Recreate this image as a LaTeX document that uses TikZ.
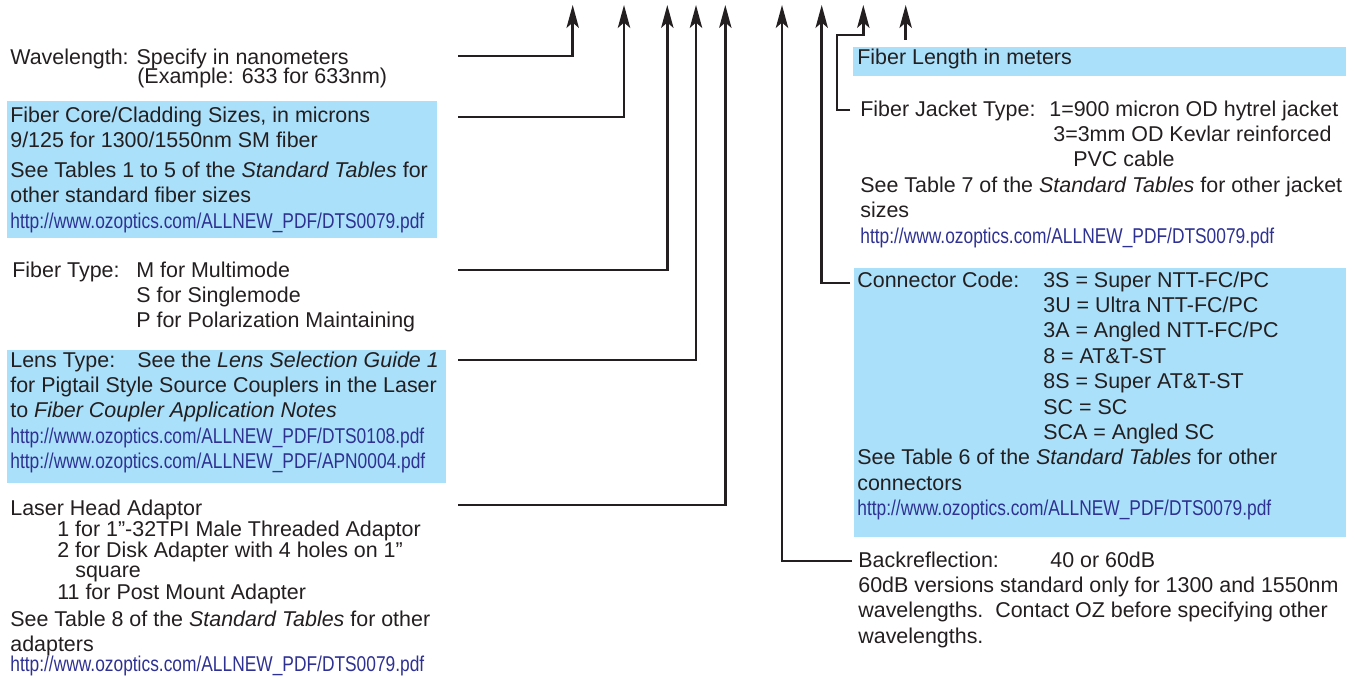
\documentclass[tikz,border=0pt]{standalone}
\usepackage{fontspec}
\setmainfont{Liberation Sans}
\newfontfamily\urlfont[FakeStretch=0.81]{Liberation Sans}
\usetikzlibrary{arrows.meta}

\definecolor{ozblue}{RGB}{171,224,250}
\definecolor{oztext}{RGB}{35,31,32}
\definecolor{ozlink}{RGB}{46,49,146}
\newlength{\pxl}\setlength{\pxl}{0.02cm}
\newcommand{\lnk}[1]{{\urlfont\color{ozlink}#1}}
\newcommand{\ozurl}[1]{\lnk{http://www.ozoptics.com/ALLNEW\_PDF/#1.pdf}}

\tikzset{
  txt/.style={anchor=base west, inner sep=0pt, text=oztext,
    font=\fontsize{12.2}{14.46}\selectfont},
  arr/.style={draw=oztext, line width=1.4pt,
    -{Stealth[length=13pt, width=7pt, inset=3pt]}},
  bluebox/.style={fill=ozblue}
}

\begin{document}
\begin{tikzpicture}[x=0.02cm, y=-0.02cm]
  \useasboundingbox (0,0) rectangle (1355,679);
  % shaded boxes
  \fill[bluebox] (7,101) rectangle (437,238);
  \fill[bluebox] (7,350) rectangle (446,483);
  \fill[bluebox] (853,47) rectangle (1346,76);
  \fill[bluebox] (854,268) rectangle (1346,537);

  % arrow tips along the top
  \coordinate (t1) at (572.7,5);
  \coordinate (t2) at (624,5);
  \coordinate (t3) at (667.3,5);
  \coordinate (t4) at (696,5);
  \coordinate (t5) at (725.3,5);
  \coordinate (t6) at (782,5);
  \coordinate (t7) at (821.7,5);
  \coordinate (t8) at (863.3,5);
  \coordinate (t9) at (905.7,5);

  % left column
  \node[txt] (wl) at (10,65) {\begin{tabular}[t]{@{}l@{}}
    Wavelength: Specify in nanometers\\[-6.5\pxl]
    \hspace*{127\pxl}(Example: 633 for 633nm)\end{tabular}};
  \node[txt] (core) at (10,122) {\begin{tabular}[t]{@{}l@{}}
    Fiber Core/Cladding Sizes, in microns\\
    9/125 for 1300/1550nm SM fiber\\[4.5\pxl]
    See Tables 1 to 5 of the \textit{Standard Tables} for\\
    other standard fiber sizes\\
    \ozurl{DTS0079}\end{tabular}};
  \node[txt] (ftype) at (12,277) {\begin{tabular}[t]{@{}l@{}}
    \makebox[124\pxl][l]{Fiber Type:}M for Multimode\\
    \hspace*{124\pxl}S for Singlemode\\
    \hspace*{124\pxl}P for Polarization Maintaining\end{tabular}};
  \node[txt] (lens) at (10,367) {\begin{tabular}[t]{@{}l@{}}
    \makebox[127\pxl][l]{Lens Type:}See the \textit{Lens Selection Guide 1}\\
    for Pigtail Style Source Couplers in the Laser\\
    to \textit{Fiber Coupler Application Notes}\\
    \ozurl{DTS0108}\\
    \ozurl{APN0004}\end{tabular}};
  \node[txt] (laser) at (10,515) {\begin{tabular}[t]{@{}l@{}}
    Laser Head Adaptor\\[-3.5\pxl]
    \hspace*{47\pxl}1 for 1”-32TPI Male Threaded Adaptor\\[-4.5\pxl]
    \hspace*{47\pxl}2 for Disk Adapter with 4 holes on 1”\\[-5.5\pxl]
    \hspace*{65\pxl}square\\[-3.5\pxl]
    \hspace*{47\pxl}11 for Post Mount Adapter\\[1.5\pxl]
    See Table 8 of the \textit{Standard Tables} for other\\
    adapters\\[-5.5\pxl]
    \ozurl{DTS0079}\end{tabular}};

  % right column
  \node[txt] (flen) at (857,65) {Fiber Length in meters};
  \node[txt] (jacket) at (860,116) {\begin{tabular}[t]{@{}l@{}}
    \makebox[189\pxl][l]{Fiber Jacket Type:}1=900 micron OD hytrel jacket\\
    \hspace*{193\pxl}3=3mm OD Kevlar reinforced\\
    \hspace*{213\pxl}PVC cable\\
    See Table 7 of the \textit{Standard Tables} for other jacket\\
    sizes\\
    \ozurl{DTS0079}\end{tabular}};
  \node[txt] (conn) at (857,287) {\begin{tabular}[t]{@{}l@{}}
    \makebox[186\pxl][l]{Connector Code:}3S = Super NTT-FC/PC\\
    \hspace*{186\pxl}3U = Ultra NTT-FC/PC\\
    \hspace*{186\pxl}3A = Angled NTT-FC/PC\\
    \hspace*{186\pxl}8 = AT\&T-ST\\
    \hspace*{186\pxl}8S = Super AT\&T-ST\\
    \hspace*{186\pxl}SC = SC\\
    \hspace*{186\pxl}SCA = Angled SC\\
    See Table 6 of the \textit{Standard Tables} for other\\
    connectors\\
    \ozurl{DTS0079}\end{tabular}};
  \node[txt] (back) at (858,567) {\begin{tabular}[t]{@{}l@{}}
    \makebox[192\pxl][l]{Backreflection:}40 or 60dB\\
    60dB versions standard only for 1300 and 1550nm\\
    wavelengths.\ \ Contact OZ before specifying other\\
    wavelengths.\end{tabular}};

  % connector starts
  \coordinate (wlS) at (458,56);
  \coordinate (coreS) at (458,117);
  \coordinate (ftypeS) at (458,270);
  \coordinate (lensS) at (458,360);
  \coordinate (laserS) at (458,505);
  \coordinate (backS) at (852,561);
  \coordinate (connS) at (850,283);
  \coordinate (jacketS) at (850,110);
  \coordinate (flenS) at (905.7,40);

  \draw[arr] (wlS) -| (t1);
  \draw[arr] (coreS) -| (t2);
  \draw[arr] (ftypeS) -| (t3);
  \draw[arr] (lensS) -| (t4);
  \draw[arr] (laserS) -| (t5);
  \draw[arr] (backS) -| (t6);
  \draw[arr] (connS) -| (t7);
  \draw[arr] (jacketS) -| (837,35) -| (t8);
  \draw[arr] (flenS) -- (t9);
\end{tikzpicture}
\end{document}
